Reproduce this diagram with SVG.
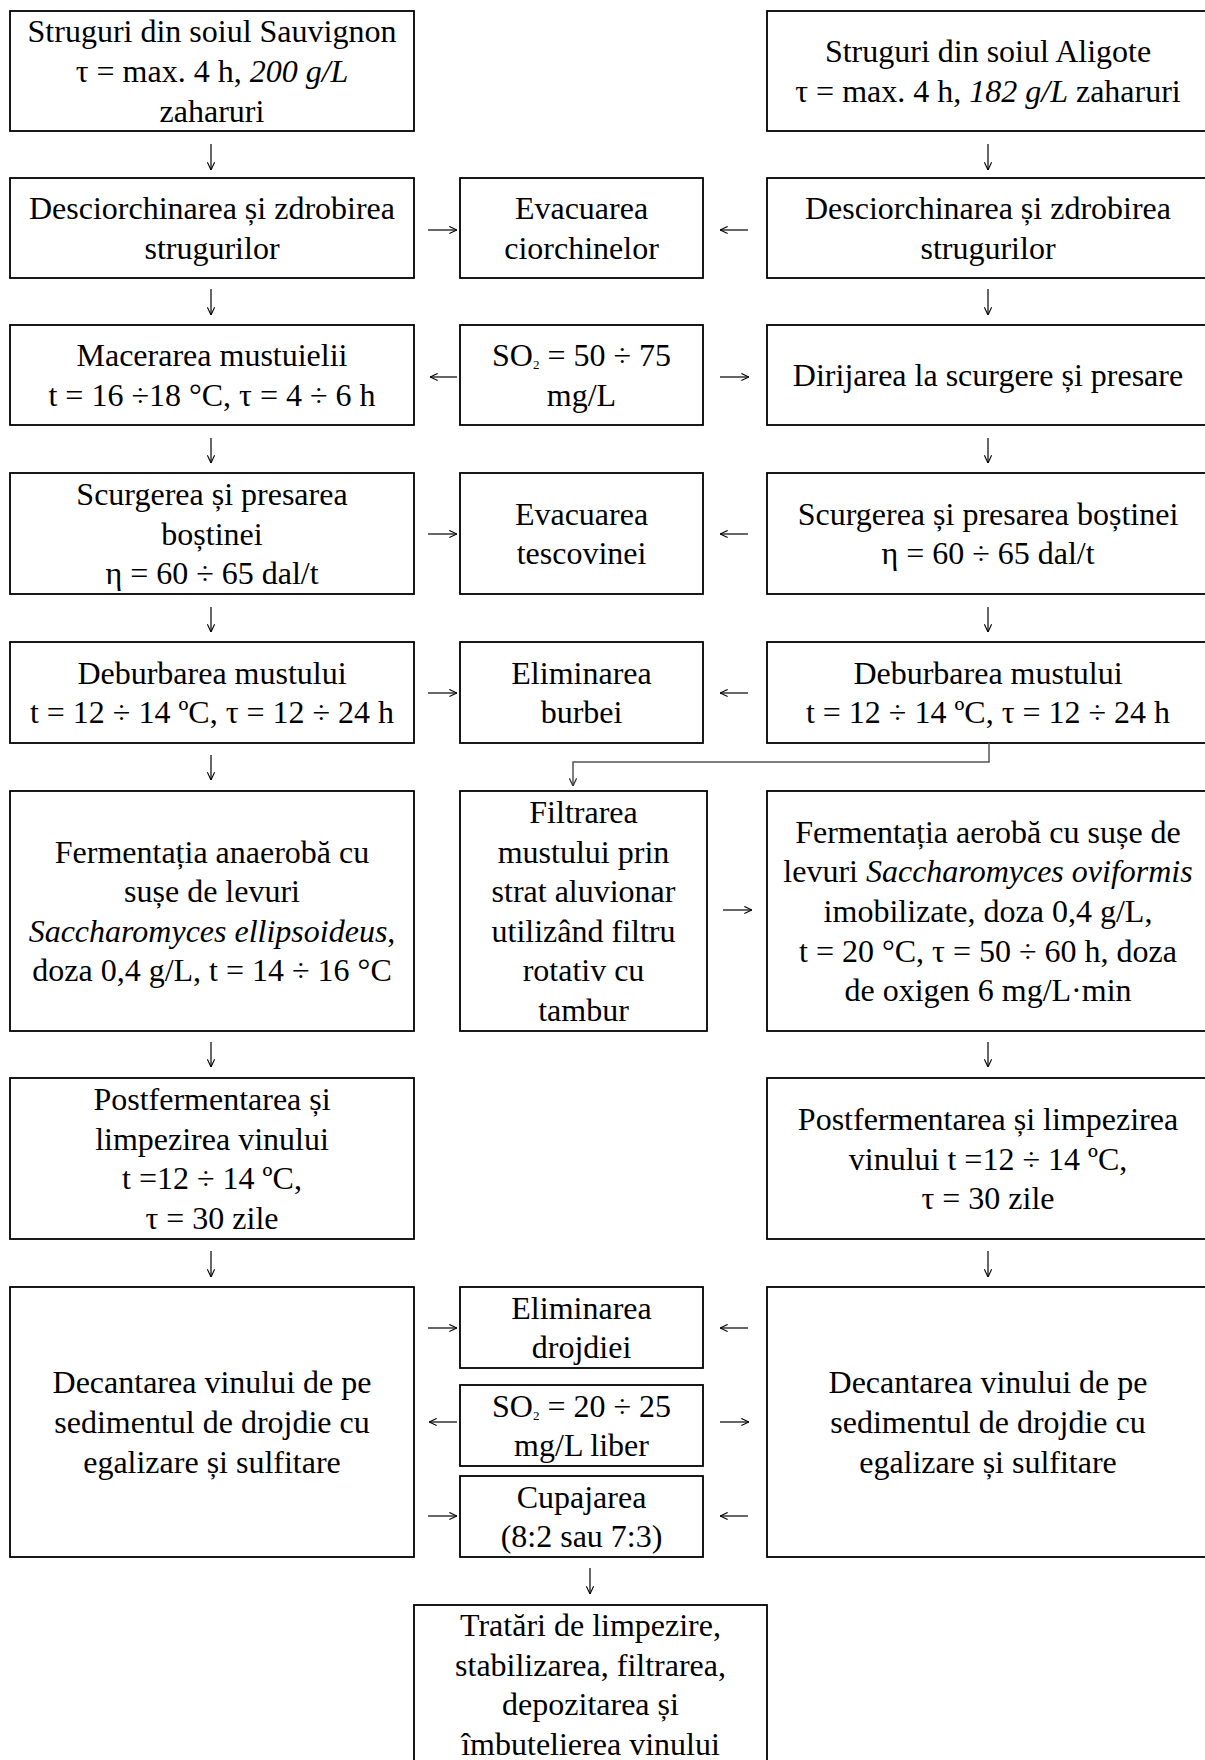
<svg xmlns="http://www.w3.org/2000/svg" width="1205" height="1760" viewBox="0 0 1205 1760">
<style>
.box{fill:#fff;stroke:#000;stroke-width:1.8}
text{font-family:"Liberation Serif","Times New Roman",serif;font-size:32px;text-anchor:middle;fill:#000}
.it{font-style:italic}
.sub{font-size:13px}
.arr{stroke:#000;stroke-width:1.2;fill:none;marker-end:url(#ah)}
.elb{stroke:#555;stroke-width:1.5;fill:none;marker-end:url(#ahg)}
</style>
<defs>
<marker id="ah" viewBox="0 0 10 10" refX="9.5" refY="5" markerWidth="9" markerHeight="9" markerUnits="userSpaceOnUse" orient="auto"><path d="M1,1 L9.5,5 L1,9" fill="none" stroke="#000" stroke-width="1.2"/></marker>
<marker id="ahg" viewBox="0 0 10 10" refX="9.5" refY="5" markerWidth="9" markerHeight="9" markerUnits="userSpaceOnUse" orient="auto"><path d="M1,1 L9.5,5 L1,9" fill="none" stroke="#333" stroke-width="1.4"/></marker>
</defs>
<rect width="1205" height="1760" fill="#fff"/>

<g id="n-sauvignon"><rect class="box" x="10" y="11" width="404" height="120"/>
<text x="212" y="42.4">Struguri din soiul Sauvignon</text>
<text x="212" y="82">τ = max. 4 h, <tspan class="it">200 g/L</tspan></text>
<text x="212" y="121.6">zaharuri</text></g>

<g id="n-aligote"><rect class="box" x="767" y="11" width="442" height="120"/>
<text x="988" y="62.2">Struguri din soiul Aligote</text>
<text x="988" y="101.8">τ = max. 4 h, <tspan class="it">182 g/L</tspan> zaharuri</text></g>

<g id="n-desc-l"><rect class="box" x="10" y="178" width="404" height="100"/>
<text x="212" y="219.2">Desciorchinarea și zdrobirea</text>
<text x="212" y="258.8">strugurilor</text></g>
<g id="n-evac-ciorch"><rect class="box" x="460" y="178" width="243" height="100"/>
<text x="581.5" y="219.2">Evacuarea</text>
<text x="581.5" y="258.8">ciorchinelor</text></g>
<g id="n-desc-r"><rect class="box" x="767" y="178" width="442" height="100"/>
<text x="988" y="219.2">Desciorchinarea și zdrobirea</text>
<text x="988" y="258.8">strugurilor</text></g>

<g id="n-macerare"><rect class="box" x="10" y="325" width="404" height="100"/>
<text x="212" y="366.2">Macerarea mustuielii</text>
<text x="212" y="405.8">t = 16 ÷18 °C, τ = 4 ÷ 6 h</text></g>
<g id="n-so2-a"><rect class="box" x="460" y="325" width="243" height="100"/>
<text x="581.5" y="366.2">SO<tspan class="sub" dy="3">2</tspan><tspan dy="-3"> = 50 ÷ 75</tspan></text>
<text x="581.5" y="405.8">mg/L</text></g>
<g id="n-dirijare"><rect class="box" x="767" y="325" width="442" height="100"/>
<text x="988" y="386">Dirijarea la scurgere și presare</text></g>

<g id="n-scurg-l"><rect class="box" x="10" y="473" width="404" height="121"/>
<text x="212" y="504.9">Scurgerea și presarea</text>
<text x="212" y="544.5">boștinei</text>
<text x="212" y="584.1">η = 60 ÷ 65 dal/t</text></g>
<g id="n-evac-tesc"><rect class="box" x="460" y="473" width="243" height="121"/>
<text x="581.5" y="524.7">Evacuarea</text>
<text x="581.5" y="564.3">tescovinei</text></g>
<g id="n-scurg-r"><rect class="box" x="767" y="473" width="442" height="121"/>
<text x="988" y="524.7">Scurgerea și presarea boștinei</text>
<text x="988" y="564.3">η = 60 ÷ 65 dal/t</text></g>

<g id="n-debur-l"><rect class="box" x="10" y="642" width="404" height="101"/>
<text x="212" y="683.7">Deburbarea mustului</text>
<text x="212" y="723.3">t = 12 ÷ 14 ºC, τ = 12 ÷ 24 h</text></g>
<g id="n-elim-burbei"><rect class="box" x="460" y="642" width="243" height="101"/>
<text x="581.5" y="683.7">Eliminarea</text>
<text x="581.5" y="723.3">burbei</text></g>
<g id="n-debur-r"><rect class="box" x="767" y="642" width="442" height="101"/>
<text x="988" y="683.7">Deburbarea mustului</text>
<text x="988" y="723.3">t = 12 ÷ 14 ºC, τ = 12 ÷ 24 h</text></g>

<g id="n-ferm-l"><rect class="box" x="10" y="791" width="404" height="240"/>
<text x="212" y="862.6">Fermentația anaerobă cu</text>
<text x="212" y="902.2">sușe de levuri</text>
<text x="212" y="941.8"><tspan class="it">Saccharomyces ellipsoideus</tspan>,</text>
<text x="212" y="981.4">doza 0,4 g/L, t = 14 ÷ 16 °C</text></g>
<g id="n-filtrare"><rect class="box" x="460" y="791" width="247" height="240"/>
<text x="583.5" y="823">Filtrarea</text>
<text x="583.5" y="862.6">mustului prin</text>
<text x="583.5" y="902.2">strat aluvionar</text>
<text x="583.5" y="941.8">utilizând filtru</text>
<text x="583.5" y="981.4">rotativ cu</text>
<text x="583.5" y="1021">tambur</text></g>
<g id="n-ferm-r"><rect class="box" x="767" y="791" width="442" height="240"/>
<text x="988" y="842.8">Fermentația aerobă cu sușe de</text>
<text x="988" y="882.4">levuri <tspan class="it">Saccharomyces oviformis</tspan></text>
<text x="988" y="922">imobilizate, doza 0,4 g/L,</text>
<text x="988" y="961.6">t = 20 °C, τ = 50 ÷ 60 h, doza</text>
<text x="988" y="1001.2">de oxigen 6 mg/L·min</text></g>

<g id="n-postf-l"><rect class="box" x="10" y="1078" width="404" height="161"/>
<text x="212" y="1110.1">Postfermentarea și</text>
<text x="212" y="1149.7">limpezirea vinului</text>
<text x="212" y="1189.3">t =12 ÷ 14 ºC,</text>
<text x="212" y="1228.9">τ = 30 zile</text></g>
<g id="n-postf-r"><rect class="box" x="767" y="1078" width="442" height="161"/>
<text x="988" y="1129.9">Postfermentarea și limpezirea</text>
<text x="988" y="1169.5">vinului t =12 ÷ 14 ºC,</text>
<text x="988" y="1209.1">τ = 30 zile</text></g>

<g id="n-decant-l"><rect class="box" x="10" y="1287" width="404" height="270"/>
<text x="212" y="1393.4">Decantarea vinului de pe</text>
<text x="212" y="1433">sedimentul de drojdie cu</text>
<text x="212" y="1472.6">egalizare și sulfitare</text></g>
<g id="n-elim-drojdiei"><rect class="box" x="460" y="1287" width="243" height="81"/>
<text x="581.5" y="1318.7">Eliminarea</text>
<text x="581.5" y="1358.3">drojdiei</text></g>
<g id="n-so2-b"><rect class="box" x="460" y="1385" width="243" height="81"/>
<text x="581.5" y="1416.7">SO<tspan class="sub" dy="3">2</tspan><tspan dy="-3"> = 20 ÷ 25</tspan></text>
<text x="581.5" y="1456.3">mg/L liber</text></g>
<g id="n-cupaj"><rect class="box" x="460" y="1476" width="243" height="81"/>
<text x="581.5" y="1507.7">Cupajarea</text>
<text x="581.5" y="1547.3">(8:2 sau 7:3)</text></g>
<g id="n-decant-r"><rect class="box" x="767" y="1287" width="442" height="270"/>
<text x="988" y="1393.4">Decantarea vinului de pe</text>
<text x="988" y="1433">sedimentul de drojdie cu</text>
<text x="988" y="1472.6">egalizare și sulfitare</text></g>

<g id="n-final"><rect class="box" x="414" y="1605" width="353" height="165"/>
<text x="590.5" y="1636">Tratări de limpezire,</text>
<text x="590.5" y="1675.6">stabilizarea, filtrarea,</text>
<text x="590.5" y="1715.2">depozitarea și</text>
<text x="590.5" y="1754.8">îmbutelierea vinului</text></g>

<g id="connectors">
<path class="arr" d="M211,144 V170"/>
<path class="arr" d="M988,144 V170"/>
<path class="arr" d="M211,289 V315"/>
<path class="arr" d="M988,289 V315"/>
<path class="arr" d="M211,438 V463"/>
<path class="arr" d="M988,438 V463"/>
<path class="arr" d="M211,607 V632"/>
<path class="arr" d="M988,607 V632"/>
<path class="arr" d="M211,755 V780"/>
<path class="arr" d="M211,1042 V1067"/>
<path class="arr" d="M988,1042 V1067"/>
<path class="arr" d="M211,1251 V1277"/>
<path class="arr" d="M988,1251 V1277"/>
<path class="arr" d="M590,1568 V1594"/>
<path class="arr" d="M428,230 H457"/>
<path class="arr" d="M748,230 H720"/>
<path class="arr" d="M457,377 H430"/>
<path class="arr" d="M720,377 H749"/>
<path class="arr" d="M428,534 H457"/>
<path class="arr" d="M748,534 H720"/>
<path class="arr" d="M428,693 H457"/>
<path class="arr" d="M748,693 H720"/>
<path class="arr" d="M723,910 H752"/>
<path class="arr" d="M428,1328 H457"/>
<path class="arr" d="M748,1328 H720"/>
<path class="arr" d="M457,1422 H429"/>
<path class="arr" d="M720,1422 H749"/>
<path class="arr" d="M428,1516 H457"/>
<path class="arr" d="M748,1516 H720"/>
<path class="elb" d="M989,743 V762 H573 V786"/>
</g>
</svg>
